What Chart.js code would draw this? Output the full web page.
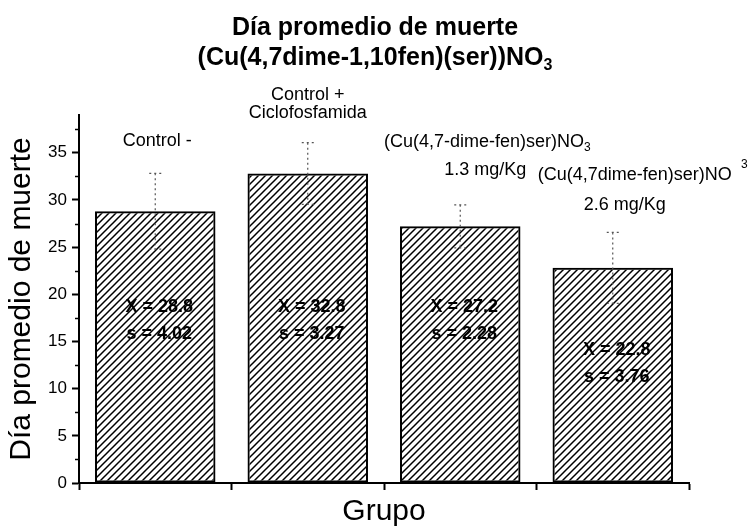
<!DOCTYPE html>
<html>
<head>
<meta charset="utf-8">
<script src="https://cdn.jsdelivr.net/npm/chart.js@4"></script>
<style>
  html, body { margin: 0; padding: 0; background: #fff; }
</style>
</head>
<body>
<canvas id="myChart" width="749" height="530"></canvas>
<script>
// data
const groups = [
    ['Control -'],
    ['Control +', 'Ciclofosfamida'],
    ['(Cu(4,7-dime-fen)ser)NO|3', '1.3 mg/Kg'],
    ['(Cu(4,7dime-fen)ser)NO|3', '2.6 mg/Kg']
];
const meanDay = [28.8, 32.8, 27.2, 22.8];
const sdDay = [4.02, 3.27, 2.28, 3.76];
const yTickValues = [0, 5, 10, 15, 20, 25, 30, 35];
const titleLines = ['Día promedio de muerte', '(Cu(4,7dime-1,10fen)(ser))NO|3'];

const FONT = "'Liberation Sans', Arial, sans-serif";

document.addEventListener('DOMContentLoaded', function() {
    const canvas = document.getElementById('myChart');
    const ctx = canvas.getContext('2d');

    // diagonal hatch fill
    function makeHatch() {
        const c = document.createElement('canvas');
        c.width = 7; c.height = 7;
        const g = c.getContext('2d');
        g.strokeStyle = '#000';
        g.lineWidth = 1.5;
        g.beginPath();
        g.moveTo(-1, 8); g.lineTo(8, -1);
        g.moveTo(-1, 1); g.lineTo(1, -1);
        g.moveTo(6, 8); g.lineTo(8, 6);
        g.stroke();
        return ctx.createPattern(c, 'repeat');
    }

    // text with an optional "|sub" part
    function drawSub(c, str, x, y, size, bold, align, subDx, subDy) {
        const parts = str.split('|');
        const main = parts[0], sub = parts[1];
        const weight = bold ? 'bold ' : '';
        c.font = weight + size + 'px ' + FONT;
        const w = c.measureText(main).width;
        c.font = weight + Math.round(size * 0.65) + 'px ' + FONT;
        const sw = sub && subDx === undefined ? c.measureText(sub).width : 0;
        let x0 = x;
        if (align === 'center') x0 = x - (w + sw) / 2;
        c.textAlign = 'left';
        c.textBaseline = 'middle';
        c.font = weight + size + 'px ' + FONT;
        c.fillText(main, x0, y);
        if (sub) {
            c.font = weight + Math.round(size * 0.65) + 'px ' + FONT;
            if (subDx === undefined) {
                c.fillText(sub, x0 + w, y + size * 0.3);
            } else {
                c.fillText(sub, subDx, y + subDy);
            }
        }
    }

    // where the labels above the bars sit: [dx from bar centre, y]
    const headLayout = [
        [[2, 141]],
        [[0, 95], [0, 113]],
        [[27, 142], [25, 170]],
        [[22, 175], [12, 205]]
    ];
    const statY = [18.6, 18.6, 18.6, 14.1];

    const decorPlugin = {
        id: 'decor',
        afterDatasetsDraw(chart) {
            const c = chart.ctx;
            const ys = chart.scales.y;
            const meta = chart.getDatasetMeta(0);
            c.save();
            c.fillStyle = '#000';

            // title
            drawSub(c, titleLines[0], 375, 28, 25, true, 'center');
            drawSub(c, titleLines[1], 375, 58, 25, true, 'center');

            // minor ticks on y
            c.strokeStyle = '#000';
            c.lineWidth = 1.5;
            for (let v = 2.5; v < ys.max; v += 5) {
                const py = Math.round(ys.getPixelForValue(v)) + 0.5;
                c.beginPath();
                c.moveTo(chart.chartArea.left - 4, py);
                c.lineTo(chart.chartArea.left, py);
                c.stroke();
            }

            meta.data.forEach((bar, i) => {
                // dotted error bars
                const top = ys.getPixelForValue(meanDay[i] + sdDay[i]);
                const bot = ys.getPixelForValue(meanDay[i] - sdDay[i]);
                c.strokeStyle = '#555';
                c.lineWidth = 1.2;
                c.setLineDash([2, 3]);
                c.beginPath();
                c.moveTo(bar.x, top); c.lineTo(bar.x, bot);
                c.moveTo(bar.x - 6, top); c.lineTo(bar.x + 6, top);
                c.moveTo(bar.x - 6, bot); c.lineTo(bar.x + 6, bot);
                c.stroke();
                c.setLineDash([]);

                // group labels above
                groups[i].forEach((line, j) => {
                    const [dx, y] = headLayout[i][j];
                    if (i === 3 && j === 0) {
                        drawSub(c, line, bar.x + dx, y, 18, false, 'center', 741, -10);
                    } else {
                        drawSub(c, line, bar.x + dx, y, 18, false, 'center');
                    }
                });

                // mean / sd inside bars
                const sy = ys.getPixelForValue(statY[i]);
                c.font = 'bold 18px ' + FONT;
                c.textAlign = 'center';
                c.textBaseline = 'middle';
                c.fillStyle = '#000';
                c.fillText('X = ' + meanDay[i].toFixed(1), bar.x + 4, sy);
                c.fillText('s = ' + sdDay[i].toFixed(2), bar.x + 4, sy + 27);
            });
            c.restore();
        }
    };

    new Chart(ctx, {
        type: 'bar',
        data: {
            labels: groups.map(g => g.join(' ').replace('|', '')),
            datasets: [{
                label: 'Día promedio de muerte',
                data: meanDay,
                backgroundColor: makeHatch(),
                borderColor: '#000',
                borderWidth: 2,
                borderSkipped: false,
                barPercentage: 0.79,
                categoryPercentage: 1.0
            }]
        },
        options: {
            responsive: false,
            animation: false,
            devicePixelRatio: 1,
            layout: { padding: { top: 115, right: 60, left: 0, bottom: 0 } },
            plugins: {
                legend: { display: false },
                tooltip: { enabled: false },
                title: { display: false }
            },
            scales: {
                x: {
                    offset: true,
                    grid: {
                        offset: true,
                        drawOnChartArea: false,
                        tickLength: 7,
                        tickWidth: 2,
                        tickColor: '#000'
                    },
                    border: { color: '#000', width: 2 },
                    ticks: { display: false },
                    title: {
                        display: true,
                        text: 'Grupo',
                        color: '#000',
                        font: { family: FONT, size: 30 },
                        padding: { top: 0, bottom: 0 }
                    },
                    afterFit(scale) { scale.height = 47; }
                },
                y: {
                    min: 0,
                    max: 39,
                    grid: {
                        drawOnChartArea: false,
                        tickLength: 7,
                        tickWidth: 2,
                        tickColor: c => yTickValues.includes(c.tick.value) ? '#000' : 'rgba(0,0,0,0)'
                    },
                    border: { color: '#000', width: 2 },
                    ticks: {
                        stepSize: 2.5,
                        autoSkip: false,
                        includeBounds: false,
                        padding: 5,
                        color: '#000',
                        font: { family: FONT, size: 17 },
                        callback: v => yTickValues.includes(v) ? String(v) : ''
                    },
                    title: {
                        display: true,
                        text: 'Día promedio de muerte',
                        color: '#000',
                        font: { family: FONT, size: 30 },
                        padding: { top: 4, bottom: 0 }
                    },
                    afterFit(scale) { scale.width = 79; }
                }
            }
        },
        plugins: [decorPlugin]
    });
});
</script>
</body>
</html>
